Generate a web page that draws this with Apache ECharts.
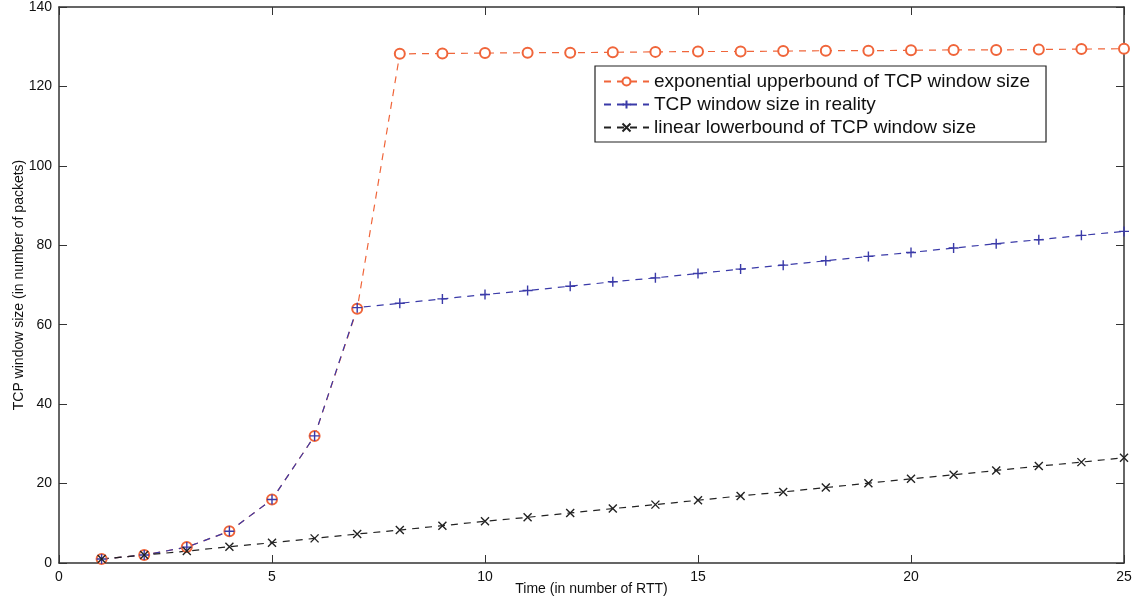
<!DOCTYPE html>
<html>
<head>
<meta charset="utf-8">
<script src="https://cdn.jsdelivr.net/npm/echarts@6/dist/echarts.min.js"></script>
<style>
  html, body { margin: 0; padding: 0; background: #fff; }
  #chart { width: 1138px; height: 604px; }
</style>
</head>
<body>
<div id="chart"></div>
<script>
// x values (time in RTT)
const rtt = [1,2,3,4,5,6,7,8,9,10,11,12,13,14,15,16,17,18,19,20,21,22,23,24,25]
// series values
const upperBound = [1,2,4,8,16,32,64,128.2,128.3,128.4,128.5,128.5,128.6,128.7,128.8,128.8,128.9,129,129,129.1,129.2,129.2,129.3,129.4,129.5]
const reality = [1,2,4,8,16,32,64.3,65.4,66.5,67.6,68.6,69.7,70.8,71.8,72.9,74,75,76.1,77.2,78.2,79.3,80.4,81.4,82.5,83.5]
const lowerBound = [1,2,3,4.1,5.1,6.2,7.3,8.3,9.4,10.5,11.5,12.6,13.7,14.7,15.8,16.9,17.9,19,20.1,21.2,22.2,23.3,24.4,25.4,26.5]
const seriesNames = [
  'exponential upperbound of TCP window size',
  'TCP window size in reality',
  'linear lowerbound of TCP window size'
]

const font = 'Liberation Sans, Arial, Helvetica, sans-serif'
const axisColor = '#333'
const pair = arr => arr.map((v, i) => [rtt[i], v])

const chart = echarts.init(document.getElementById('chart'))
const tickStyle = { show: true, inside: true, length: 8, lineStyle: { color: axisColor, width: 1 } }
const boxLine = { show: true, onZero: false, lineStyle: { color: axisColor, width: 1.5 } }
const option = {
  animation: false,
  backgroundColor: '#fff',
  grid: { left: 59, right: 14, top: 7, bottom: 41, containLabel: false, outerBoundsMode: 'none' },
  legend: {
    orient: 'vertical',
    left: 595,
    top: 66,
    padding: [6, 16, 5, 8],
    itemGap: 4,
    itemWidth: 45,
    itemHeight: 10,
    borderColor: '#222',
    borderWidth: 1.2,
    backgroundColor: '#fff',
    textStyle: { fontFamily: font, fontSize: 19, color: '#111' },
    data: seriesNames
  },
  xAxis: [
    {
      type: 'value', min: 0, max: 25, interval: 5,
      name: 'Time (in number of RTT)', nameLocation: 'middle', nameGap: 19, nameMoveOverlap: false,
      nameTextStyle: { fontFamily: font, fontSize: 14, color: '#111' },
      axisLine: boxLine,
      axisTick: tickStyle,
      axisLabel: { fontFamily: font, fontSize: 14, color: '#111', margin: 7 },
      splitLine: { show: false }
    },
    {
      type: 'value', min: 0, max: 25, interval: 5, position: 'top',
      axisLine: boxLine,
      axisTick: tickStyle,
      axisLabel: { show: false },
      splitLine: { show: false }
    }
  ],
  yAxis: [
    {
      type: 'value', min: 0, max: 140, interval: 20,
      name: 'TCP window size (in number of packets)', nameLocation: 'middle', nameGap: 33, nameMoveOverlap: false,
      nameTextStyle: { fontFamily: font, fontSize: 14, color: '#111' },
      axisLine: boxLine,
      axisTick: tickStyle,
      axisLabel: { fontFamily: font, fontSize: 14, color: '#111', margin: 7 },
      splitLine: { show: false }
    },
    {
      type: 'value', min: 0, max: 140, interval: 20, position: 'right',
      axisLine: boxLine,
      axisTick: tickStyle,
      axisLabel: { show: false },
      splitLine: { show: false }
    }
  ],
  series: [
    {
      name: seriesNames[0],
      type: 'line',
      data: pair(upperBound),
      symbol: 'emptyCircle',
      symbolSize: 10,
      lineStyle: { color: '#f0653a', width: 1.2, type: [7, 6] },
      itemStyle: { color: '#f0653a', borderColor: '#f0653a', borderWidth: 1.2 }
    },
    {
      name: seriesNames[1],
      type: 'line',
      data: pair(reality),
      symbol: 'path://M0,5 L10,5 M5,0 L5,10',
      symbolSize: 10,
      lineStyle: { color: '#3a3aa8', width: 1.2, type: [7, 6] },
      itemStyle: { color: 'none', borderColor: '#3a3aa8', borderWidth: 1.4 }
    },
    {
      name: seriesNames[2],
      type: 'line',
      data: pair(lowerBound),
      symbol: 'path://M0,0 L10,10 M10,0 L0,10',
      symbolSize: 8,
      lineStyle: { color: '#222', width: 1.2, type: [7, 6] },
      itemStyle: { color: 'none', borderColor: '#222', borderWidth: 1.4 }
    }
  ]
}
chart.setOption(option)
</script>
</body>
</html>
